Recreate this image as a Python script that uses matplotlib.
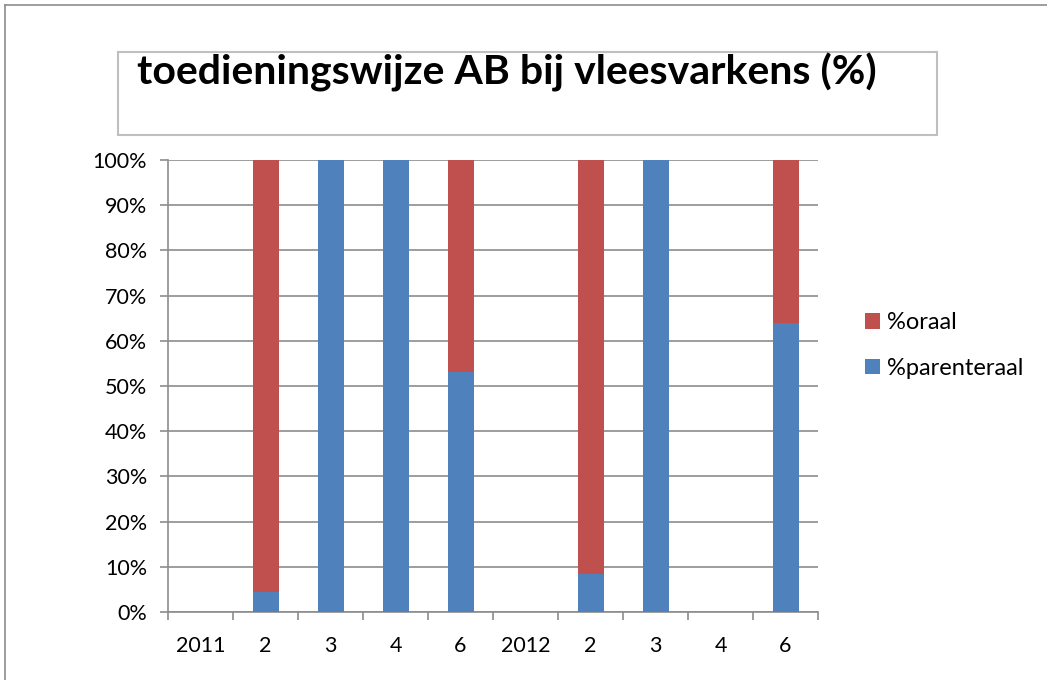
import matplotlib.pyplot as plt
from matplotlib.patches import Rectangle
from matplotlib.lines import Line2D
import numpy as np

plt.rcParams["font.family"] = ["Lato", "DejaVu Sans"]

# Data
categories = ["2011", "2", "3", "4", "6", "2012", "2", "3", "4", "6"]
parenteraal = [0, 4.5, 100, 100, 53, 0, 8.5, 100, 0, 64]
oraal = [0, 95.5, 0, 0, 47, 0, 91.5, 0, 0, 36]
yticks = list(range(0, 101, 10))

color_or = "#C0504D"
color_par = "#4F81BD"

W, H = 1047, 680
fig = plt.figure(figsize=(W / 100, H / 100), dpi=100)

# outer chart frame (top + left)
fig.add_artist(Line2D([5 / W, 1], [1 - 5 / H, 1 - 5 / H], color="#8c8c8c", lw=1.2))
fig.add_artist(Line2D([5 / W, 5 / W], [0, 1 - 5 / H], color="#8c8c8c", lw=1.2))

# title box
fig.add_artist(Rectangle((118 / W, 1 - 135 / H), (937 - 118) / W, (135 - 52) / H,
                         fill=False, edgecolor="#bfbfbf", lw=1.5))
fig.text(137 / W, 1 - 72 / H, "toedieningswijze AB bij vleesvarkens (%)",
         fontsize=29.5, fontweight="bold", ha="left", va="center")

ax = fig.add_axes([168 / W, 68 / H, (818 - 168) / W, (612 - 160) / H])
x = np.arange(len(categories))
ax.bar(x, parenteraal, width=0.4, color=color_par, label="%parenteraal", zorder=3)
ax.bar(x, oraal, width=0.4, bottom=parenteraal, color=color_or, label="%oraal", zorder=3)

ax.set_xlim(-0.5, len(categories) - 0.5)
ax.set_ylim(0, 100)
ax.set_yticks(yticks)
ax.set_yticklabels([f"{v}%" for v in yticks], fontsize=15.5)
ax.yaxis.grid(True, color="#8c8c8c", lw=1.2, zorder=0)

ax.set_xticks(x)
ax.set_xticklabels(categories, fontsize=15.5)
ax.set_xticks(np.arange(-0.5, len(categories)), minor=True)
ax.tick_params(axis="x", which="major", length=0, pad=17)
ax.tick_params(axis="x", which="minor", length=6, color="#8c8c8c", width=1.2)
ax.tick_params(axis="y", length=6, color="#8c8c8c", width=1.2, pad=9)

for s in ["top", "right"]:
    ax.spines[s].set_visible(False)
for s in ["left", "bottom"]:
    ax.spines[s].set_color("#8c8c8c")
    ax.spines[s].set_linewidth(1.2)

handles, labels = ax.get_legend_handles_labels()
fig.legend(handles[::-1], labels[::-1], loc="center left",
           bbox_to_anchor=(865 / W, 1 - 345.5 / H), frameon=False, fontsize=17,
           borderpad=0, borderaxespad=0,
           handlelength=0.64, handleheight=0.64, labelspacing=1.05, handletextpad=0.3)

fig.savefig("out.png", dpi=100)
